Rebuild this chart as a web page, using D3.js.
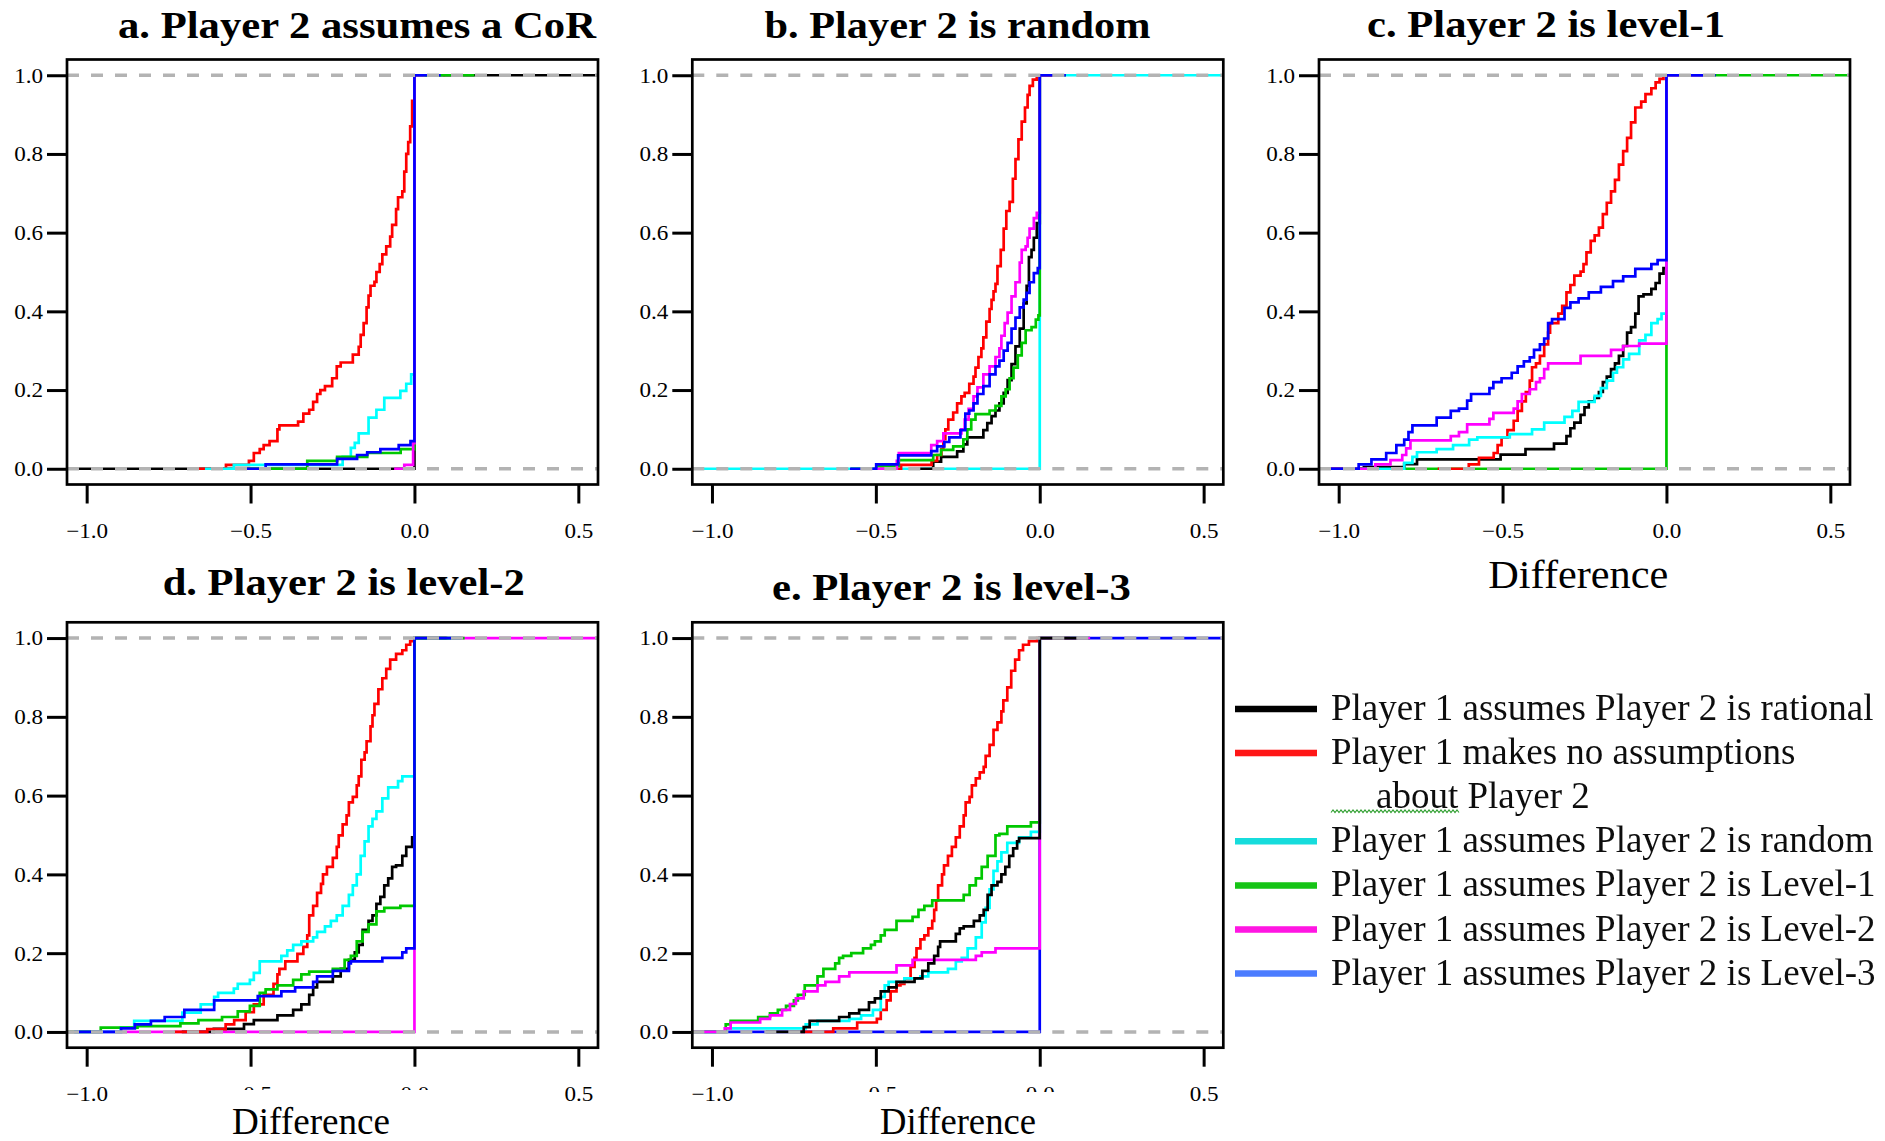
<!DOCTYPE html>
<html>
<head>
<meta charset="utf-8">
<script src="https://cdn.jsdelivr.net/npm/d3@7"></script>
<style>
  html, body { margin: 0; padding: 0; background: #fff; }
  svg { display: block; }
</style>
</head>
<body>
<svg id="chart" width="1885" height="1141"></svg>
<script>
// ---------------------------------------------------------------
// Empirical CDFs of the payoff difference, one step list per series.
// Each entry is [difference, cumulative share] at a jump of the ECDF.
// ---------------------------------------------------------------
const seriesKeys = ["rational", "none", "random", "level1", "level2", "level3"];
const seriesLabels = [
  "Player 1 assumes Player 2 is rational",
  "Player 1 makes no assumptions",
  "Player 1 assumes Player 2 is random",
  "Player 1 assumes Player 2 is Level-1",
  "Player 1 assumes Player 2 is Level-2",
  "Player 1 assumes Player 2 is Level-3"
];
const panelTitles = [
  "a. Player 2 assumes a CoR",
  "b. Player 2 is random",
  "c. Player 2 is level-1",
  "d. Player 2 is level-2",
  "e. Player 2 is level-3"
];
const xTicks = [-1.0, -0.5, 0.0, 0.5];
const yTicks = [0.0, 0.2, 0.4, 0.6, 0.8, 1.0];
const xLabel = "Difference";
const legendContinuation = "about Player 2";

// a. Player 2 assumes a CoR
const aRational = [[0, 1]];
const aNone = [[-0.575,0.01],[-0.505,0.02],[-0.490,0.04],[-0.472,0.05],[-0.460,0.06],[-0.442,0.07],[-0.418,0.10],[-0.412,0.11],[-0.355,0.12],[-0.339,0.14],[-0.321,0.15],[-0.309,0.17],[-0.297,0.19],[-0.287,0.20],[-0.273,0.21],[-0.251,0.23],[-0.237,0.26],[-0.225,0.27],[-0.188,0.29],[-0.170,0.31],[-0.164,0.34],[-0.155,0.37],[-0.146,0.41],[-0.140,0.44],[-0.134,0.465],[-0.122,0.475],[-0.116,0.50],[-0.106,0.52],[-0.098,0.545],[-0.086,0.565],[-0.074,0.59],[-0.068,0.62],[-0.056,0.66],[-0.050,0.69],[-0.037,0.705],[-0.031,0.755],[-0.025,0.80],[-0.019,0.83],[-0.013,0.87],[-0.007,0.935],[0,1]];
const aRandom = [[-0.551,0.01],[-0.219,0.03],[-0.194,0.053],[-0.182,0.066],[-0.170,0.09],[-0.140,0.13],[-0.116,0.15],[-0.092,0.18],[-0.043,0.198],[-0.025,0.216],[-0.010,0.24],[0,1]];
const aLevel1 = [[-0.327,0.02],[-0.236,0.03],[-0.144,0.04],[-0.042,0.05],[0,1]];
const aLevel2 = [[-0.031,0.01],[-0.004,0.065],[0,1]];
const aLevel3 = [[-0.454,0.011],[-0.236,0.025],[-0.175,0.035],[-0.144,0.042],[-0.104,0.05],[-0.048,0.06],[-0.012,0.07],[0,1]];

// b. Player 2 is random
const bRational = [[-0.325,0.018],[-0.301,0.03],[-0.252,0.044],[-0.233,0.062],[-0.221,0.08],[-0.172,0.098],[-0.160,0.116],[-0.147,0.134],[-0.135,0.148],[-0.123,0.166],[-0.110,0.193],[-0.098,0.225],[-0.086,0.266],[-0.074,0.311],[-0.061,0.356],[-0.049,0.42],[-0.040,0.465],[-0.033,0.538],[-0.025,0.556],[-0.018,0.587],[-0.009,0.624],[0,1]];
const bNone = [[-0.423,0.01],[-0.330,0.02],[-0.313,0.035],[-0.300,0.05],[-0.294,0.075],[-0.288,0.10],[-0.279,0.125],[-0.264,0.143],[-0.252,0.166],[-0.239,0.184],[-0.229,0.193],[-0.215,0.216],[-0.202,0.234],[-0.196,0.257],[-0.187,0.284],[-0.178,0.306],[-0.172,0.334],[-0.163,0.374],[-0.153,0.406],[-0.147,0.429],[-0.141,0.451],[-0.135,0.47],[-0.129,0.515],[-0.119,0.556],[-0.110,0.61],[-0.102,0.655],[-0.092,0.678],[-0.082,0.737],[-0.074,0.787],[-0.065,0.837],[-0.055,0.882],[-0.045,0.918],[-0.037,0.95],[-0.031,0.973],[-0.021,0.989],[-0.009,1.0]];
const bRandom = [[0, 1]];
const bLevel1 = [[-0.497,0.007],[-0.430,0.022],[-0.325,0.035],[-0.301,0.048],[-0.264,0.057],[-0.233,0.075],[-0.221,0.10],[-0.209,0.125],[-0.196,0.139],[-0.153,0.148],[-0.135,0.16],[-0.117,0.184],[-0.104,0.202],[-0.092,0.23],[-0.080,0.257],[-0.067,0.288],[-0.055,0.32],[-0.043,0.352],[-0.025,0.36],[-0.012,0.379],[-0.004,0.39],[0,1]];
const bLevel2 = [[-0.436,0.02],[-0.430,0.04],[-0.331,0.06],[-0.313,0.07],[-0.294,0.09],[-0.239,0.10],[-0.229,0.125],[-0.217,0.152],[-0.202,0.184],[-0.190,0.207],[-0.172,0.24],[-0.153,0.26],[-0.135,0.284],[-0.123,0.306],[-0.117,0.338],[-0.107,0.37],[-0.098,0.397],[-0.086,0.438],[-0.074,0.474],[-0.061,0.524],[-0.055,0.556],[-0.043,0.565],[-0.037,0.587],[-0.031,0.61],[-0.018,0.637],[-0.009,0.65],[0,1]];
const bLevel3 = [[-0.499,0.011],[-0.432,0.034],[-0.331,0.045],[-0.313,0.057],[-0.291,0.068],[-0.276,0.08],[-0.242,0.098],[-0.227,0.14],[-0.215,0.148],[-0.202,0.166],[-0.190,0.19],[-0.172,0.21],[-0.153,0.24],[-0.135,0.26],[-0.123,0.275],[-0.110,0.30],[-0.098,0.32],[-0.086,0.356],[-0.074,0.384],[-0.061,0.41],[-0.049,0.43],[-0.040,0.447],[-0.031,0.474],[-0.018,0.497],[-0.006,0.51],[0,1]];

// c. Player 2 is level-1
const cRational = [[-0.923,0.004],[-0.800,0.012],[-0.761,0.024],[-0.506,0.036],[-0.430,0.05],[-0.343,0.064],[-0.305,0.083],[-0.293,0.103],[-0.281,0.117],[-0.262,0.137],[-0.250,0.156],[-0.237,0.171],[-0.219,0.18],[-0.206,0.195],[-0.194,0.22],[-0.182,0.234],[-0.169,0.253],[-0.157,0.268],[-0.145,0.287],[-0.132,0.312],[-0.120,0.346],[-0.108,0.36],[-0.095,0.394],[-0.085,0.438],[-0.070,0.443],[-0.046,0.457],[-0.033,0.472],[-0.021,0.496],[-0.009,0.51],[0,1]];
const cNone = [[-0.603,0.011],[-0.572,0.028],[-0.527,0.04],[-0.515,0.06],[-0.503,0.079],[-0.485,0.098],[-0.466,0.122],[-0.454,0.147],[-0.441,0.171],[-0.429,0.195],[-0.417,0.224],[-0.410,0.258],[-0.398,0.268],[-0.386,0.287],[-0.373,0.316],[-0.361,0.346],[-0.355,0.37],[-0.330,0.394],[-0.318,0.414],[-0.305,0.448],[-0.293,0.467],[-0.281,0.491],[-0.262,0.501],[-0.253,0.52],[-0.244,0.55],[-0.231,0.579],[-0.219,0.593],[-0.206,0.613],[-0.194,0.647],[-0.182,0.676],[-0.169,0.705],[-0.157,0.734],[-0.145,0.773],[-0.132,0.807],[-0.120,0.841],[-0.108,0.88],[-0.095,0.918],[-0.077,0.933],[-0.064,0.952],[-0.046,0.967],[-0.033,0.982],[-0.021,0.991],[-0.009,1.0]];
const cRandom = [[-0.800,0.015],[-0.775,0.03],[-0.761,0.042],[-0.701,0.05],[-0.651,0.06],[-0.602,0.074],[-0.577,0.08],[-0.478,0.088],[-0.410,0.10],[-0.373,0.117],[-0.311,0.132],[-0.287,0.147],[-0.268,0.17],[-0.219,0.185],[-0.200,0.205],[-0.182,0.224],[-0.163,0.244],[-0.151,0.258],[-0.132,0.278],[-0.114,0.292],[-0.083,0.326],[-0.064,0.34],[-0.046,0.37],[-0.027,0.38],[-0.015,0.394],[0,1]];
const cLevel1 = [[0, 1]];
const cLevel2 = [[-0.888,0.011],[-0.842,0.022],[-0.806,0.035],[-0.794,0.052],[-0.781,0.072],[-0.658,0.083],[-0.633,0.093],[-0.608,0.113],[-0.540,0.127],[-0.528,0.142],[-0.466,0.153],[-0.454,0.171],[-0.441,0.19],[-0.417,0.202],[-0.398,0.22],[-0.386,0.23],[-0.373,0.253],[-0.361,0.268],[-0.262,0.287],[-0.169,0.302],[-0.132,0.312],[-0.083,0.318],[0,1]];
const cLevel3 = [[-0.939,0.011],[-0.900,0.024],[-0.855,0.04],[-0.824,0.06],[-0.800,0.074],[-0.787,0.093],[-0.775,0.11],[-0.701,0.13],[-0.658,0.147],[-0.633,0.153],[-0.608,0.173],[-0.596,0.19],[-0.540,0.205],[-0.528,0.22],[-0.503,0.23],[-0.472,0.244],[-0.454,0.26],[-0.435,0.273],[-0.417,0.283],[-0.404,0.302],[-0.386,0.316],[-0.373,0.331],[-0.361,0.37],[-0.349,0.38],[-0.311,0.409],[-0.293,0.423],[-0.268,0.433],[-0.237,0.448],[-0.200,0.462],[-0.163,0.477],[-0.132,0.489],[-0.095,0.508],[-0.046,0.52],[-0.027,0.53],[0,1]];

// d. Player 2 is level-2
const dRational = [[-0.612,0.008],[-0.520,0.02],[-0.490,0.03],[-0.418,0.042],[-0.370,0.056],[-0.345,0.07],[-0.321,0.094],[-0.309,0.113],[-0.297,0.127],[-0.249,0.141],[-0.225,0.16],[-0.200,0.183],[-0.182,0.202],[-0.170,0.221],[-0.158,0.259],[-0.140,0.282],[-0.128,0.296],[-0.116,0.325],[-0.104,0.343],[-0.092,0.372],[-0.080,0.39],[-0.068,0.419],[-0.056,0.423],[-0.037,0.447],[-0.025,0.47],[-0.007,0.494],[0,1]];
const dNone = [[-0.632,0.007],[-0.576,0.019],[-0.550,0.03],[-0.515,0.05],[-0.490,0.07],[-0.460,0.094],[-0.430,0.122],[-0.418,0.146],[-0.412,0.16],[-0.394,0.179],[-0.357,0.198],[-0.339,0.216],[-0.327,0.245],[-0.321,0.296],[-0.309,0.32],[-0.297,0.353],[-0.285,0.376],[-0.279,0.40],[-0.267,0.419],[-0.249,0.442],[-0.237,0.47],[-0.231,0.499],[-0.219,0.527],[-0.207,0.55],[-0.200,0.583],[-0.188,0.597],[-0.176,0.626],[-0.170,0.649],[-0.162,0.691],[-0.152,0.71],[-0.146,0.738],[-0.134,0.776],[-0.128,0.804],[-0.122,0.833],[-0.110,0.87],[-0.098,0.898],[-0.086,0.922],[-0.074,0.945],[-0.056,0.96],[-0.037,0.969],[-0.025,0.983],[-0.013,0.992],[0,1]];
const dRandom = [[-0.896,0.011],[-0.855,0.028],[-0.708,0.049],[-0.652,0.07],[-0.611,0.089],[-0.599,0.099],[-0.551,0.11],[-0.539,0.122],[-0.502,0.132],[-0.490,0.15],[-0.472,0.179],[-0.406,0.193],[-0.388,0.207],[-0.370,0.221],[-0.345,0.23],[-0.309,0.24],[-0.297,0.254],[-0.273,0.268],[-0.255,0.282],[-0.237,0.296],[-0.219,0.32],[-0.200,0.348],[-0.188,0.372],[-0.176,0.40],[-0.164,0.447],[-0.152,0.484],[-0.140,0.522],[-0.128,0.541],[-0.116,0.56],[-0.098,0.593],[-0.080,0.621],[-0.050,0.637],[-0.037,0.649],[0,1]];
const dLevel1 = [[-0.957,0.011],[-0.845,0.015],[-0.714,0.022],[-0.659,0.03],[-0.587,0.038],[-0.539,0.052],[-0.502,0.066],[-0.472,0.099],[-0.454,0.108],[-0.418,0.118],[-0.370,0.132],[-0.345,0.146],[-0.321,0.153],[-0.249,0.16],[-0.213,0.183],[-0.194,0.193],[-0.176,0.23],[-0.158,0.254],[-0.140,0.273],[-0.116,0.306],[-0.092,0.315],[-0.043,0.32],[0,1]];
const dLevel2 = [[0, 1]];
const dLevel3 = [[-0.895,0.009],[-0.853,0.019],[-0.804,0.028],[-0.762,0.038],[-0.702,0.056],[-0.611,0.08],[-0.478,0.091],[-0.406,0.103],[-0.364,0.113],[-0.309,0.127],[-0.297,0.141],[-0.249,0.155],[-0.200,0.174],[-0.194,0.179],[-0.098,0.188],[-0.037,0.202],[-0.025,0.212],[0,1]];

// e. Player 2 is level-3
const eRational = [[-0.720,0.012],[-0.702,0.028],[-0.612,0.038],[-0.581,0.047],[-0.551,0.056],[-0.521,0.075],[-0.503,0.085],[-0.485,0.103],[-0.461,0.113],[-0.437,0.127],[-0.382,0.136],[-0.358,0.155],[-0.340,0.174],[-0.322,0.193],[-0.310,0.216],[-0.304,0.23],[-0.256,0.249],[-0.244,0.263],[-0.232,0.268],[-0.201,0.282],[-0.183,0.296],[-0.171,0.31],[-0.159,0.348],[-0.147,0.372],[-0.129,0.381],[-0.117,0.40],[-0.105,0.419],[-0.093,0.447],[-0.081,0.466],[-0.069,0.484],[-0.063,0.492],[0,1]];
const eNone = [[-0.630,0.009],[-0.557,0.024],[-0.497,0.033],[-0.485,0.056],[-0.467,0.08],[-0.455,0.103],[-0.437,0.118],[-0.425,0.122],[-0.413,0.136],[-0.394,0.165],[-0.382,0.188],[-0.376,0.212],[-0.364,0.235],[-0.352,0.245],[-0.340,0.263],[-0.328,0.282],[-0.322,0.31],[-0.316,0.334],[-0.310,0.372],[-0.298,0.40],[-0.292,0.423],[-0.280,0.447],[-0.268,0.47],[-0.256,0.494],[-0.244,0.522],[-0.232,0.55],[-0.226,0.583],[-0.214,0.597],[-0.207,0.626],[-0.195,0.644],[-0.183,0.659],[-0.171,0.673],[-0.165,0.701],[-0.153,0.729],[-0.141,0.767],[-0.129,0.786],[-0.117,0.814],[-0.111,0.842],[-0.099,0.875],[-0.087,0.917],[-0.075,0.945],[-0.063,0.969],[-0.051,0.983],[-0.033,0.992],[-0.008,1.0]];
const eRandom = [[-0.955,0.009],[-0.714,0.019],[-0.678,0.028],[-0.581,0.033],[-0.545,0.042],[-0.509,0.056],[-0.485,0.089],[-0.473,0.118],[-0.461,0.127],[-0.413,0.136],[-0.364,0.141],[-0.340,0.151],[-0.280,0.16],[-0.256,0.179],[-0.238,0.188],[-0.220,0.212],[-0.195,0.24],[-0.177,0.278],[-0.165,0.315],[-0.153,0.362],[-0.141,0.409],[-0.129,0.433],[-0.117,0.456],[-0.099,0.48],[-0.063,0.494],[-0.027,0.508],[0,1]];
const eLevel1 = [[-0.958,0.019],[-0.943,0.028],[-0.859,0.038],[-0.823,0.047],[-0.799,0.056],[-0.774,0.066],[-0.750,0.08],[-0.738,0.094],[-0.717,0.118],[-0.678,0.141],[-0.660,0.16],[-0.624,0.174],[-0.612,0.188],[-0.600,0.193],[-0.575,0.2],[-0.539,0.212],[-0.515,0.221],[-0.503,0.23],[-0.485,0.245],[-0.473,0.259],[-0.437,0.282],[-0.388,0.292],[-0.370,0.31],[-0.352,0.32],[-0.328,0.334],[-0.232,0.348],[-0.214,0.372],[-0.195,0.39],[-0.177,0.419],[-0.159,0.447],[-0.135,0.499],[-0.123,0.503],[-0.099,0.522],[-0.027,0.532],[0,1]];
const eLevel2 = [[-0.961,0.009],[-0.943,0.024],[-0.853,0.033],[-0.823,0.042],[-0.786,0.056],[-0.762,0.071],[-0.744,0.085],[-0.720,0.103],[-0.678,0.118],[-0.654,0.127],[-0.612,0.141],[-0.581,0.151],[-0.437,0.169],[-0.388,0.183],[-0.195,0.193],[-0.177,0.202],[-0.135,0.212],[0,1]];
const eLevel3 = [[0, 1]];

const panelSeries = [
  { rational: aRational, none: aNone, random: aRandom, level1: aLevel1, level2: aLevel2, level3: aLevel3 },
  { rational: bRational, none: bNone, random: bRandom, level1: bLevel1, level2: bLevel2, level3: bLevel3 },
  { rational: cRational, none: cNone, random: cRandom, level1: cLevel1, level2: cLevel2, level3: cLevel3 },
  { rational: dRational, none: dNone, random: dRandom, level1: dLevel1, level2: dLevel2, level3: dLevel3 },
  { rational: eRational, none: eNone, random: eRandom, level1: eLevel1, level2: eLevel2, level3: eLevel3 }
];

// Plotting order in each panel: the first series sets up the plot and spans it fully.
const drawOrder = [
  ["rational", "none", "random", "level1", "level2", "level3"],
  ["random", "rational", "none", "level1", "level2", "level3"],
  ["level1", "rational", "none", "random", "level2", "level3"],
  ["level2", "rational", "none", "random", "level1", "level3"],
  ["level3", "none", "random", "level1", "level2", "rational"]
];

// ---------------------------------------------------------------
// Styling and layout
// ---------------------------------------------------------------
const lineColors = {
  rational: "#000000", none: "#ff0000", random: "#00ffff",
  level1: "#00c800", level2: "#ff00ff", level3: "#0000ff"
};
const legendColors = {
  rational: "#050505", none: "#ff1414", random: "#12dcdc",
  level1: "#12c412", level2: "#ff12e2", level3: "#4c7cff"
};
const SERIF = "'Liberation Serif', 'Times New Roman', Times, serif";

const frameW = 531;
const colLeft = [67, 692.3, 1319];
const rowBox = [{ top: 59.5, bottom: 484.5 }, { top: 622.3, bottom: 1047.7 }];
const xDomain = [-1.06, 0.56];
const yDomain = [-0.04, 1.04];

const panelLayout = [
  { col: 0, row: 0, title: { x: 118, y: 38, w: 478 } },
  { col: 1, row: 0, title: { x: 764.5, y: 38, w: 386 } },
  { col: 2, row: 0, title: { x: 1367, y: 36.5, w: 358 },
    xlab: { cx: 1578.3, y: 588.3, w: 180, size: 40.5 } },
  { col: 0, row: 1, title: { x: 162.7, y: 594.5, w: 362 },
    xlab: { cx: 311, y: 1134, w: 158, size: 37, mask: [200, 1090, 250, 51] } },
  { col: 1, row: 1, title: { x: 772, y: 599.5, w: 359 },
    xlab: { cx: 958, y: 1134, w: 156, size: 37, mask: [818, 1092, 255, 49] } }
];

const svg = d3.select("#chart");
svg.append("rect").attr("width", 1885).attr("height", 1141).attr("fill", "#fff");

const defs = svg.append("defs");
defs.append("filter").attr("id", "soft")
  .attr("x", "-5%").attr("y", "-5%").attr("width", "110%").attr("height", "110%")
  .append("feGaussianBlur").attr("stdDeviation", 0.45);

// Step-function outline in the style of R's plot.stepfun
function stepPoints(knots, spansPlot) {
  const xs = knots.map(d => d[0]);
  let left, right;
  if (spansPlot) {
    left = xDomain[0] - 0.2; right = xDomain[1] + 0.2;
  } else {
    const span = xs[xs.length - 1] - xs[0];
    const dr = xs.length > 1
      ? Math.max(0.08 * span, d3.median(d3.pairs(xs, (p, q) => q - p)))
      : Math.abs(xs[0]) / 16;
    left = xs[0] - 2 * dr;
    right = xs[xs.length - 1] + 2 * dr;
  }
  const pts = [[left, 0]];
  let prev = 0;
  knots.forEach(([x, y]) => { pts.push([x, prev]); pts.push([x, y]); prev = y; });
  pts.push([right, prev]);
  return pts;
}

function stretchText(sel, factor) {
  sel.each(function () {
    const w = this.getComputedTextLength();
    d3.select(this).attr("textLength", w * factor).attr("lengthAdjust", "spacingAndGlyphs");
  });
}

panelLayout.forEach((lay, i) => {
  const left = colLeft[lay.col];
  const right = left + frameW;
  const { top, bottom } = rowBox[lay.row];

  const x = d3.scaleLinear().domain(xDomain).range([left, right]);
  const y = d3.scaleLinear().domain(yDomain).range([bottom, top]);

  const g = svg.append("g").attr("class", "panel");
  const clipId = "clip" + i;
  defs.append("clipPath").attr("id", clipId)
    .append("rect").attr("x", left).attr("y", top)
    .attr("width", frameW).attr("height", bottom - top);

  const plot = g.append("g").attr("clip-path", `url(#${clipId})`);
  const line = d3.line().x(d => x(d[0])).y(d => y(d[1]));

  drawOrder[i].forEach((key, k) => {
    plot.append("path")
      .attr("d", line(stepPoints(panelSeries[i][key], k === 0)))
      .attr("fill", "none")
      .attr("stroke", lineColors[key])
      .attr("stroke-width", 2.7)
      .attr("stroke-linejoin", "miter")
      .attr("stroke-linecap", "butt");
  });

  // reference lines at 0 and 1
  plot.selectAll("line.ref").data([0, 1]).join("line")
    .attr("class", "ref")
    .attr("x1", left).attr("x2", right)
    .attr("y1", d => y(d)).attr("y2", d => y(d))
    .attr("stroke", "#b3b3b3").attr("stroke-width", 3.5)
    .attr("stroke-dasharray", "12 12");

  // box
  g.append("rect").attr("x", left).attr("y", top)
    .attr("width", frameW).attr("height", bottom - top)
    .attr("fill", "none").attr("stroke", "#000").attr("stroke-width", 2.7);

  const fmt = d3.format(".1f");

  const xAxis = g.append("g").attr("transform", `translate(0,${bottom})`)
    .call(d3.axisBottom(x).tickValues(xTicks).tickFormat(fmt).tickSize(19).tickSizeOuter(0));
  xAxis.select(".domain").remove();
  xAxis.selectAll(".tick line").attr("stroke", "#000").attr("stroke-width", 3);
  xAxis.selectAll(".tick text")
    .attr("y", 53).attr("dy", 0)
    .attr("fill", "#000")
    .style("font-family", SERIF).style("font-size", "21px");
  stretchText(xAxis.selectAll(".tick text"), 1.1);

  const yAxis = g.append("g").attr("transform", `translate(${left},0)`)
    .call(d3.axisLeft(y).tickValues(yTicks).tickFormat(fmt).tickSize(20).tickSizeOuter(0));
  yAxis.select(".domain").remove();
  yAxis.selectAll(".tick line").attr("stroke", "#000").attr("stroke-width", 3);
  yAxis.selectAll(".tick text")
    .attr("x", -24).attr("dy", "0.33em")
    .attr("fill", "#000")
    .style("font-family", SERIF).style("font-size", "21px");
  stretchText(yAxis.selectAll(".tick text"), 1.1);

  // title
  g.append("text")
    .attr("x", lay.title.x).attr("y", lay.title.y)
    .attr("textLength", lay.title.w).attr("lengthAdjust", "spacingAndGlyphs")
    .style("font-family", SERIF).style("font-weight", "bold").style("font-size", "37px")
    .attr("fill", "#000")
    .text(panelTitles[i]);

  // x-axis caption
  if (lay.xlab) {
    if (lay.xlab.mask) {
      const [mx, my, mw, mh] = lay.xlab.mask;
      g.append("rect").attr("x", mx).attr("y", my).attr("width", mw).attr("height", mh)
        .attr("fill", "#fff");
    }
    g.append("text")
      .attr("x", lay.xlab.cx - lay.xlab.w / 2).attr("y", lay.xlab.y)
      .attr("textLength", lay.xlab.w).attr("lengthAdjust", "spacingAndGlyphs")
      .style("font-family", SERIF).style("font-size", lay.xlab.size + "px")
      .attr("fill", "#000")
      .text(xLabel);
  }
});

// ---------------------------------------------------------------
// Legend
// ---------------------------------------------------------------
const legend = svg.append("g").attr("class", "legend").attr("filter", "url(#soft)");
const legendTop = 709;
const legendStep = 44.1;
const legendRows = [0, 1, 3, 4, 5, 6]; // row 2 carries the wrapped text
seriesKeys.forEach((key, i) => {
  const cy = legendTop + legendRows[i] * legendStep;
  legend.append("line")
    .attr("x1", 1235).attr("x2", 1317).attr("y1", cy).attr("y2", cy)
    .attr("stroke", legendColors[key]).attr("stroke-width", 6.5);
  legend.append("text")
    .attr("x", 1331).attr("y", cy + 11)
    .style("font-family", SERIF).style("font-size", "37px")
    .attr("fill", "#111")
    .text(seriesLabels[i]);
});
{
  const cy = legendTop + 2 * legendStep;
  legend.append("text")
    .attr("x", 1376).attr("y", cy + 11)
    .style("font-family", SERIF).style("font-size", "37px")
    .attr("fill", "#111")
    .text(legendContinuation);
  // wavy proofing underline
  const wave = d3.range(1331, 1461, 2).map((px, j) => [px, cy + 14 + (j % 2 ? -1.3 : 1.3)]);
  legend.append("path")
    .attr("d", d3.line()(wave))
    .attr("fill", "none").attr("stroke", "#2e9e2e").attr("stroke-width", 1.1);
}
</script>
</body>
</html>
